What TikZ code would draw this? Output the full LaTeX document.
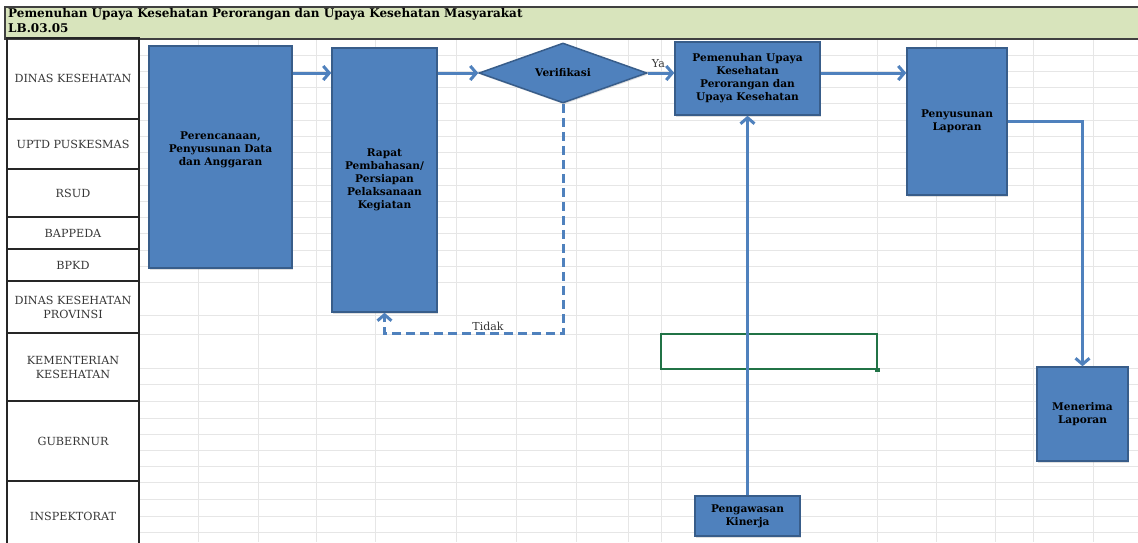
\documentclass[tikz,border=0pt]{standalone}
\usepackage{fontspec}
\setmainfont{DejaVu Serif}
\usetikzlibrary{shapes.geometric,arrows.meta,shadows}
\definecolor{boxfill}{RGB}{79,129,189}
\definecolor{boxline}{RGB}{56,93,138}
\definecolor{hdrfill}{RGB}{216,228,188}
\definecolor{gridc}{RGB}{230,230,230}
\definecolor{selgreen}{RGB}{33,115,70}
\definecolor{lbltext}{RGB}{55,55,55}
\begin{document}
\begin{tikzpicture}[x=1pt,y=-1pt,
  pbox/.style={draw=boxline, fill=boxfill, line width=1.5pt, inner sep=2pt, align=center,
    font=\bfseries\fontsize{10.6}{13}\selectfont, text=black,
    drop shadow={shadow xshift=1pt, shadow yshift=-1.5pt, opacity=0.25}},
  lane/.style={draw=black!85, line width=1.2pt, minimum width=132pt, text=lbltext, align=center,
    font=\fontsize{11.2}{14}\selectfont},
  flowarrow/.style={draw=boxfill, line width=3pt, -{Straight Barb[length=6pt,width=14pt]}},
  dasharrow/.style={flowarrow, dash pattern=on 9pt off 5pt},
  gridline/.style={draw=gridc, line width=0.8pt},
  lbl/.style={text=lbltext, font=\fontsize{11}{13}\selectfont, inner sep=1pt}
]
\useasboundingbox (0,0) rectangle (1138,542);
\fill[white] (0,0) rectangle (1138,542);
% spreadsheet grid
\foreach \gx in {198,258,316,375,456,516,576,628,661,877,936,995,1033,1093}
  \draw[gridline] (\gx,38) -- (\gx,542);
\foreach \gy in {55,71,87,103,120,136,152,168,185,201,217,233,250,266,282,315,334,368,384,401,418,434,450,466,482,499,516,532}
  \draw[gridline] (139,\gy) -- (1138,\gy);
% header
\node[draw=black!75, fill=hdrfill, line width=1.5pt, minimum width=1140pt, minimum height=32pt,
  anchor=north west, inner sep=0pt] (hdr) at (4,6) {};
\node[anchor=north west, align=left, inner sep=0pt, font=\bfseries\fontsize{12}{15}\selectfont] (ttl) at (8,8)
  {Pemenuhan Upaya Kesehatan Perorangan dan Upaya Kesehatan Masyarakat\\LB.03.05};
% lanes
\node[lane, minimum height=81pt] (l1) at (73,78.5) {DINAS KESEHATAN};
\node[lane, minimum height=50pt] (l2) at (73,144) {UPTD PUSKESMAS};
\node[lane, minimum height=48pt] (l3) at (73,193) {RSUD};
\node[lane, minimum height=32pt] (l4) at (73,233) {BAPPEDA};
\node[lane, minimum height=32pt] (l5) at (73,265) {BPKD};
\node[lane, minimum height=52pt] (l6) at (73,307) {DINAS KESEHATAN\\PROVINSI};
\node[lane, minimum height=68pt] (l7) at (73,367) {KEMENTERIAN\\KESEHATAN};
\node[lane, minimum height=80pt] (l8) at (73,441) {GUBERNUR};
\node[lane, minimum height=70pt] (l9) at (73,516) {INSPEKTORAT};
% process boxes
\node[pbox, minimum width=143pt, minimum height=222pt,
  label={[font=\bfseries\fontsize{10.6}{13}\selectfont, align=center, yshift=7pt]center:Perencanaan,\\Penyusunan Data\\dan Anggaran}] (p) at (220.5,157) {};
\node[pbox, minimum width=105pt, minimum height=264pt] (r) at (384.5,180)
  {Rapat\\Pembahasan/\\Persiapan\\Pelaksanaan\\Kegiatan};
\node[pbox, diamond, aspect=2.8, minimum width=168pt, minimum height=60pt, inner sep=0pt] (v) at (563,73) {Verifikasi};
\node[pbox, minimum width=145pt, minimum height=73pt] (pm) at (747.5,78.5)
  {Pemenuhan Upaya\\Kesehatan\\Perorangan dan\\Upaya Kesehatan};
\node[pbox, minimum width=100pt, minimum height=147pt] (ps) at (957,121.5) {Penyusunan\\Laporan};
\node[pbox, minimum width=91pt, minimum height=94pt] (m) at (1082.5,414) {Menerima\\Laporan};
\node[pbox, minimum width=105pt, minimum height=40pt] (pk) at (747.5,516) {Pengawasan\\Kinerja};
% selected cell
\node[draw=selgreen, line width=1.5pt, minimum width=216pt, minimum height=35pt, inner sep=0pt] (sel) at (769,351.5) {};
\fill[selgreen] ([xshift=-2.5pt,yshift=-2.5pt]sel.south east) rectangle ([xshift=2pt,yshift=2pt]sel.south east);
% connectors
\draw[flowarrow] (p.east |- v) -- (r.west |- v);
\draw[flowarrow] (r.east |- v) -- (v.west);
\draw[flowarrow] (v.east) -- node[lbl, pos=0.4, above=3pt] {Ya} (pm.west |- v);
\draw[flowarrow] (pm.east |- v) -- (ps.west |- v);
\draw[dasharrow] (v.south) -- ++(0,230) -| node[lbl, pos=0.21, above=1pt] {Tidak} (r.south);
\draw[flowarrow] (pk.north) -- (pm.south);
\draw[flowarrow] (ps.east) -| (m.north);
\end{tikzpicture}
\end{document}
